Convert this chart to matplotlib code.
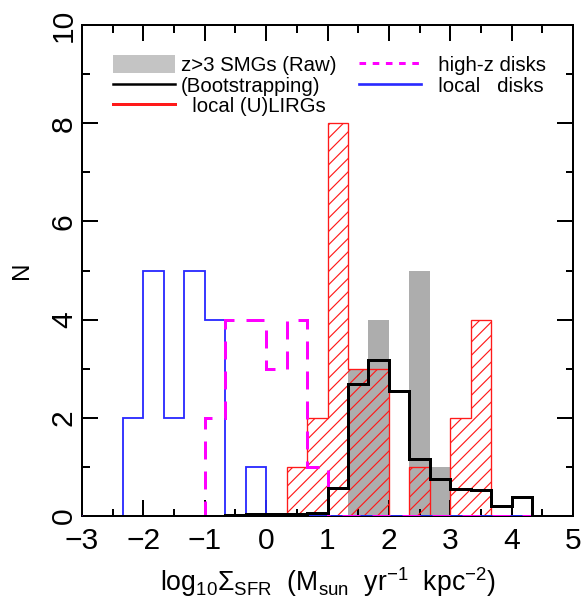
import numpy as np
import matplotlib
matplotlib.use('Agg')
import matplotlib.pyplot as plt
from matplotlib.patches import Patch
from matplotlib.lines import Line2D

plt.rcParams['font.family'] = ['Liberation Sans', 'DejaVu Sans']
plt.rcParams['mathtext.fontset'] = 'custom'
plt.rcParams['mathtext.rm'] = 'Liberation Sans'
plt.rcParams['mathtext.it'] = 'Liberation Sans'
plt.rcParams['mathtext.bf'] = 'Liberation Sans:bold'
plt.rcParams['mathtext.sf'] = 'Liberation Sans'
plt.rcParams['hatch.linewidth'] = 0.7

# ---- data: histogram bins of width 1/3 dex from -3 to 5 ----
bin_lo = -3.0
bin_hi = 5.0
n_bins = 24
smg_raw = [0, 0, 0, 0, 0, 0, 0, 0, 0, 0, 0, 0, 0, 3, 4, 0, 5, 1, 0, 0, 0, 0, 0, 0]
smg_boot = [0, 0, 0, 0, 0, 0, 0, 0.03, 0.04, 0.04, 0.05, 0.07, 0.57, 2.69, 3.18,
            2.55, 1.16, 0.75, 0.55, 0.53, 0.20, 0.39, 0, 0]
local_ulirgs = [0, 0, 0, 0, 0, 0, 0, 0, 0, 0, 1, 2, 8, 3, 3, 0, 1, 0, 2, 4, 0, 0, 0, 0]
highz_disks = [0, 0, 0, 0, 0, 0, 2, 4, 4, 3, 4, 1, 0, 0, 0, 0, 0, 0, 0, 0, 0, 0, 0, 0]
local_disks = [0, 0, 2, 5, 2, 5, 4, 0, 1, 0, 0, 0, 0, 0, 0, 0, 0, 0, 0, 0, 0, 0, 0, 0]

x_ticks = [-3, -2, -1, 0, 1, 2, 3, 4, 5]
y_ticks = [0, 2, 4, 6, 8, 10]

edges = np.linspace(bin_lo, bin_hi, n_bins + 1)

fig = plt.figure(figsize=(584 / 120, 604 / 120), dpi=120)
ax = fig.add_axes([82 / 584, 1 - 516 / 604, 491 / 584, 491 / 604])

gray_c = '#adadad'
ax.stairs(smg_raw, edges, fill=True, color=gray_c, linewidth=0, zorder=1)
ax.stairs(local_ulirgs, edges, fill=True, facecolor='none', edgecolor='#ff1a1a',
          hatch='///', linewidth=0.8, zorder=2)
ax.stairs(local_disks, edges, baseline=0, color='#2a2aff', linewidth=1.1, zorder=3)
ax.stairs(highz_disks, edges, baseline=0, color='#ff00ff', linewidth=1.8,
          linestyle=(0, (6, 4)), zorder=3)
ax.stairs(smg_boot, edges, baseline=0, color='black', linewidth=1.8, zorder=4)

ax.set_xlim(bin_lo, bin_hi)
ax.set_ylim(0, 10)
ax.set_xticks(x_ticks)
ax.set_xticks(np.arange(-3, 5.01, 0.5), minor=True)
ax.set_yticks(y_ticks)
ax.set_yticks(np.arange(0, 10.01, 1), minor=True)
ax.tick_params(which='both', direction='in', top=True, right=True, width=1.2)
ax.tick_params(which='major', length=9.5)
ax.tick_params(which='minor', length=4.5)
ax.tick_params(axis='x', which='major', labelsize=18, pad=6.5)
ax.tick_params(axis='y', which='major', labelsize=18, pad=2.5, labelrotation=90)
for lab in ax.get_yticklabels():
    lab.set_va('center')
for sp in ax.spines.values():
    sp.set_linewidth(1.2)

ax.set_xlabel(r'$\mathrm{log_{10}\Sigma_{SFR}\ \ (M_{sun}\ \ yr^{-1}\ \ kpc^{-2})}$',
              fontsize=16, labelpad=6.5)
ax.set_ylabel('N', fontsize=14.5, labelpad=10)

handles = [
    Patch(facecolor='#c4c4c4', edgecolor='none'),
    Line2D([], [], color='black', lw=1.5),
    Line2D([], [], color='#ff1a1a', lw=1.8),
    Line2D([], [], color='#ff00ff', lw=1.8, linestyle=(0, (2.2, 2.2))),
    Line2D([], [], color='#2a2aff', lw=1.6),
]
labels = ['z>3 SMGs (Raw)', '(Bootstrapping)', '  local (U)LIRGs',
          '  high-z disks', '  local   disks']
ax.legend(handles, labels, loc='upper left', bbox_to_anchor=(0.063, 0.938),
          ncol=2, frameon=False, fontsize=12.2, borderpad=0, borderaxespad=0,
          handlelength=3.05, handleheight=0.98, handletextpad=0.3,
          columnspacing=1.1, labelspacing=0.02)

fig.savefig('out.png', dpi=120)
